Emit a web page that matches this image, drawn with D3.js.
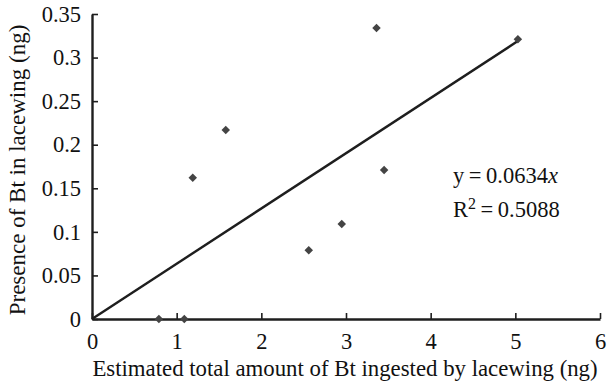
<!DOCTYPE html>
<html>
<head>
<meta charset="utf-8">
<script src="https://cdn.jsdelivr.net/npm/d3@7"></script>
<style>
  body { margin: 0; background: #fff; }
</style>
</head>
<body>
<svg id="chart" width="608" height="385"></svg>
<script>
// data
const ingested = [0.79, 1.09, 1.19, 1.58, 2.56, 2.95, 3.36, 3.45, 5.03];
const presence = [0, 0, 0.162, 0.217, 0.079, 0.109, 0.334, 0.171, 0.321];
const xTicks = [0, 1, 2, 3, 4, 5, 6];
const yTicks = [0, 0.05, 0.1, 0.15, 0.2, 0.25, 0.3, 0.35];
const slope = 0.0634;
const eqLabel = "0.0634";
const r2Label = "0.5088";
const xTitle = "Estimated total amount of Bt ingested by lacewing (ng)";
const yTitle = "Presence of Bt in lacewing (ng)";

const W = 608, H = 385;
const Margin = [14, 66, 8, 92]; // top bottom right left
const FONT = '"Liberation Serif"';
const SVG = d3.select("#chart");

const X = d3.scaleLinear().domain([0, 6]).range([Margin[3], W - Margin[2]]);
const Y = d3.scaleLinear().domain([0, 0.35]).range([H - Margin[1], Margin[0]]);

const ink = "#1e1e1e";
const serif = (sel, fs) => sel.style("font-family", FONT).style("font-size", fs || "22.5px").attr("fill", "#111");

// x axis (ticks point inward)
const gx = SVG.append("g")
  .attr("transform", `translate(0,${Y(0)})`)
  .call(d3.axisBottom(X).tickValues(xTicks).tickFormat(d3.format("d")).tickSizeInner(-6).tickSizeOuter(0).tickPadding(14));
gx.select(".domain").attr("stroke", ink).attr("stroke-width", 2.4);
gx.selectAll(".tick line").attr("stroke", ink).attr("stroke-width", 1.6);
gx.selectAll("text").call(serif);

// y axis
const gy = SVG.append("g")
  .attr("transform", `translate(${X(0)},0)`)
  .call(d3.axisLeft(Y).tickValues(yTicks).tickFormat(d => d === 0 ? "0" : String(+d.toFixed(2))).tickSizeInner(-6).tickSizeOuter(0).tickPadding(11));
gy.select(".domain").attr("stroke", ink).attr("stroke-width", 2.4);
gy.selectAll(".tick line").attr("stroke", ink).attr("stroke-width", 1.6);
gy.selectAll("text").call(serif);

// trend line through origin
const xMax = d3.max(ingested);
SVG.append("line")
  .attr("x1", X(0)).attr("y1", Y(0))
  .attr("x2", X(xMax)).attr("y2", Y(slope * xMax))
  .attr("stroke", ink).attr("stroke-width", 2.4);

// diamond markers
const diamond = d3.symbol().type(d3.symbolDiamond2).size(46);
SVG.append("g")
  .selectAll("path")
  .data(ingested.map((v, i) => [v, presence[i]]))
  .join("path")
  .attr("d", diamond)
  .attr("transform", d => `translate(${X(d[0])},${Y(d[1])})`)
  .attr("fill", "#444");

// equation
const eq = SVG.append("text").attr("x", X(4.265)).attr("y", Y(0.156)).call(serif);
eq.append("tspan").text("y\u2009=\u2009" + eqLabel);
eq.append("tspan").style("font-style", "italic").text("x");

const r2 = SVG.append("text").attr("x", X(4.265)).attr("y", Y(0.117)).call(serif);
r2.append("tspan").text("R");
r2.append("tspan").attr("dy", -8).style("font-size", "16px").text("2");
r2.append("tspan").attr("dy", 8).text("\u2009=\u2009" + r2Label);

// axis titles
SVG.append("text")
  .attr("x", 345).attr("y", 376)
  .attr("text-anchor", "middle")
  .call(serif, "22.8px")
  .text(xTitle);

SVG.append("text")
  .attr("transform", `translate(25,170) rotate(-90)`)
  .attr("text-anchor", "middle")
  .call(serif, "23px")
  .text(yTitle);
</script>
</body>
</html>
